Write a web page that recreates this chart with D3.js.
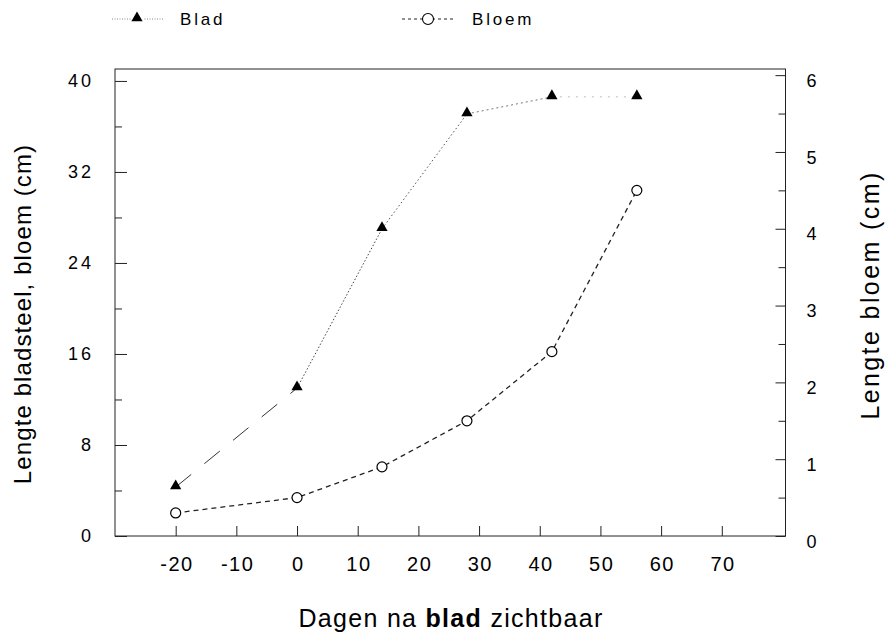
<!DOCTYPE html>
<html>
<head>
<meta charset="utf-8">
<script src="https://cdn.jsdelivr.net/npm/d3@7"></script>
<style>
  body { margin: 0; background: #fff; }
  svg { font-family: "Liberation Sans", Arial, sans-serif; }
</style>
</head>
<body>
<svg id="drawing_region"></svg>
<script>
// data
const days = [-20, 0, 14, 28, 42, 56];
const blad = [4.3, 13.0, 27.0, 37.1, 38.6, 38.6];
const bloem = [0.3, 0.5, 0.9, 1.5, 2.4, 4.5];
const xTicks = [-20, -10, 0, 10, 20, 30, 40, 50, 60, 70];
const leftTicks = [0, 8, 16, 24, 32, 40];
const leftMinor = [4, 12, 20, 28, 36];
const rightTicks = [0, 1, 2, 3, 4, 5, 6];
const rightMinor = [0.5, 1.5, 2.5, 3.5, 4.5, 5.5];

const config = {
  width: 887,
  height: 633,
  margin: { top: 69, right: 101.5, bottom: 97, left: 115 },
};

const svg = d3
  .select("#drawing_region")
  .attr("width", config.width)
  .attr("height", config.height);

const innerW = config.width - config.margin.left - config.margin.right;
const innerH = config.height - config.margin.top - config.margin.bottom;

const chart = svg
  .append("g")
  .attr("transform", `translate(${config.margin.left}, ${config.margin.top})`);

const xscale = d3.scaleLinear().domain([-30, 80.5]).range([0, innerW]);
const yleft = d3.scaleLinear().domain([0, 41.05]).range([innerH, 0]);
const yright = d3.scaleLinear().domain([0, 6.08]).range([innerH, 0]);

// frame
chart
  .append("rect")
  .attr("width", innerW)
  .attr("height", innerH)
  .attr("fill", "none")
  .attr("stroke", "#222")
  .attr("stroke-width", 1);

function styleAxis(g, size, spacing) {
  g.select(".domain").remove();
  g.selectAll("line").attr("stroke", "#222");
  g.selectAll("text")
    .attr("fill", "#000")
    .style("font-size", size + "px")
    .style("letter-spacing", spacing + "px");
}

const plain = (d) => String(d);

// left axis
chart
  .append("g")
  .call(
    d3.axisLeft(yleft).tickValues(leftTicks).tickFormat(plain).tickSize(-12).tickPadding(21),
  )
  .call((g) => styleAxis(g, 18, 3));
chart
  .append("g")
  .call(d3.axisLeft(yleft).tickValues(leftMinor).tickSize(-7).tickFormat(""))
  .call((g) => styleAxis(g, 17, 0));

// right axis
chart
  .append("g")
  .attr("transform", `translate(${innerW}, 0)`)
  .call(
    d3.axisRight(yright).tickValues(rightTicks).tickFormat(plain).tickSize(-10).tickPadding(21),
  )
  .call((g) => {
    styleAxis(g, 18, 0);
    g.selectAll("text").attr("dy", "0.62em");
  });
chart
  .append("g")
  .attr("transform", `translate(${innerW}, 0)`)
  .call(d3.axisRight(yright).tickValues(rightMinor).tickSize(-7).tickFormat(""))
  .call((g) => styleAxis(g, 17, 0));

// bottom axis
chart
  .append("g")
  .attr("transform", `translate(0, ${innerH})`)
  .call(
    d3.axisBottom(xscale).tickValues(xTicks).tickFormat(plain).tickSize(-10).tickPadding(21),
  )
  .call((g) => {
    styleAxis(g, 20, 1.5);
    g.selectAll("text").attr("dx", "0.75px");
  });

// Blad line, drawn per segment
const bladPts = days.map((d, i) => [xscale(d), yleft(blad[i])]);
const bladStyles = [
  { dash: "20,17", color: "#333", w: 1 },
  { dash: "1.5,2", color: "#444", w: 1 },
  { dash: "1.5,2.5", color: "#555", w: 1 },
  { dash: "2,3", color: "#777", w: 1 },
  { dash: "2,6", color: "#bbb", w: 1 },
];
const line = d3.line();
chart
  .selectAll(".blad-seg")
  .data(d3.pairs(bladPts))
  .join("path")
  .attr("class", "blad-seg")
  .attr("d", (d) => line(d))
  .attr("fill", "none")
  .attr("stroke", (d, i) => bladStyles[i].color)
  .attr("stroke-width", (d, i) => bladStyles[i].w)
  .attr("stroke-dasharray", (d, i) => bladStyles[i].dash);

// Bloem line
chart
  .append("path")
  .datum(days.map((d, i) => [xscale(d), yright(bloem[i])]))
  .attr("d", line)
  .attr("fill", "none")
  .attr("stroke", "#222")
  .attr("stroke-width", 1.3)
  .attr("stroke-dasharray", "5,4");

const tri = d3.symbol().type(d3.symbolTriangle).size(55);

chart
  .selectAll(".tri")
  .data(bladPts)
  .join("path")
  .attr("class", "tri")
  .attr("transform", (d) => `translate(${d[0]}, ${d[1] - 1})`)
  .attr("d", tri)
  .attr("fill", "#000");

chart
  .selectAll(".circ")
  .data(days.map((d, i) => [xscale(d), yright(bloem[i])]))
  .join("circle")
  .attr("class", "circ")
  .attr("cx", (d) => d[0])
  .attr("cy", (d) => d[1])
  .attr("r", 5)
  .attr("fill", "#fff")
  .attr("stroke", "#000")
  .attr("stroke-width", 1.2);

// legend
const legend = svg.append("g");
legend
  .append("line")
  .attr("x1", 112).attr("x2", 164).attr("y1", 19).attr("y2", 19)
  .attr("stroke", "#888").attr("stroke-dasharray", "1,1.5");
legend
  .append("rect")
  .attr("x", 131).attr("y", 14).attr("width", 12).attr("height", 11)
  .attr("fill", "#fff");
legend
  .append("path")
  .attr("transform", "translate(137, 18)")
  .attr("d", tri)
  .attr("fill", "#000");
legend
  .append("text")
  .attr("x", 180).attr("y", 25)
  .style("font-size", "17px")
  .style("letter-spacing", "2.8px")
  .text("Blad");

legend
  .append("line")
  .attr("x1", 402).attr("x2", 455).attr("y1", 19).attr("y2", 19)
  .attr("stroke", "#222").attr("stroke-dasharray", "3,3");
legend
  .append("circle")
  .attr("cx", 428).attr("cy", 19).attr("r", 5.5)
  .attr("fill", "#fff").attr("stroke", "#000").attr("stroke-width", 1.1);
legend
  .append("text")
  .attr("x", 472).attr("y", 25)
  .style("font-size", "17px")
  .style("letter-spacing", "2.8px")
  .text("Bloem");

// axis titles
svg
  .append("text")
  .attr("transform", "translate(31, 314) rotate(-90)")
  .attr("text-anchor", "middle")
  .style("font-size", "24px")
  .style("letter-spacing", "1.1px")
  .text("Lengte bladsteel, bloem (cm)");

svg
  .append("text")
  .attr("transform", "translate(879, 295) rotate(-90)")
  .attr("text-anchor", "middle")
  .style("font-size", "25px")
  .style("letter-spacing", "2.4px")
  .text("Lengte bloem (cm)");

const xt = svg
  .append("text")
  .attr("x", 451)
  .attr("y", 627)
  .attr("text-anchor", "middle")
  .style("font-size", "25px")
  .style("letter-spacing", "1.3px");
xt.append("tspan").text("Dagen na ");
xt.append("tspan").style("font-weight", "bold").text("blad");
xt.append("tspan").text(" zichtbaar");
</script>
</body>
</html>
